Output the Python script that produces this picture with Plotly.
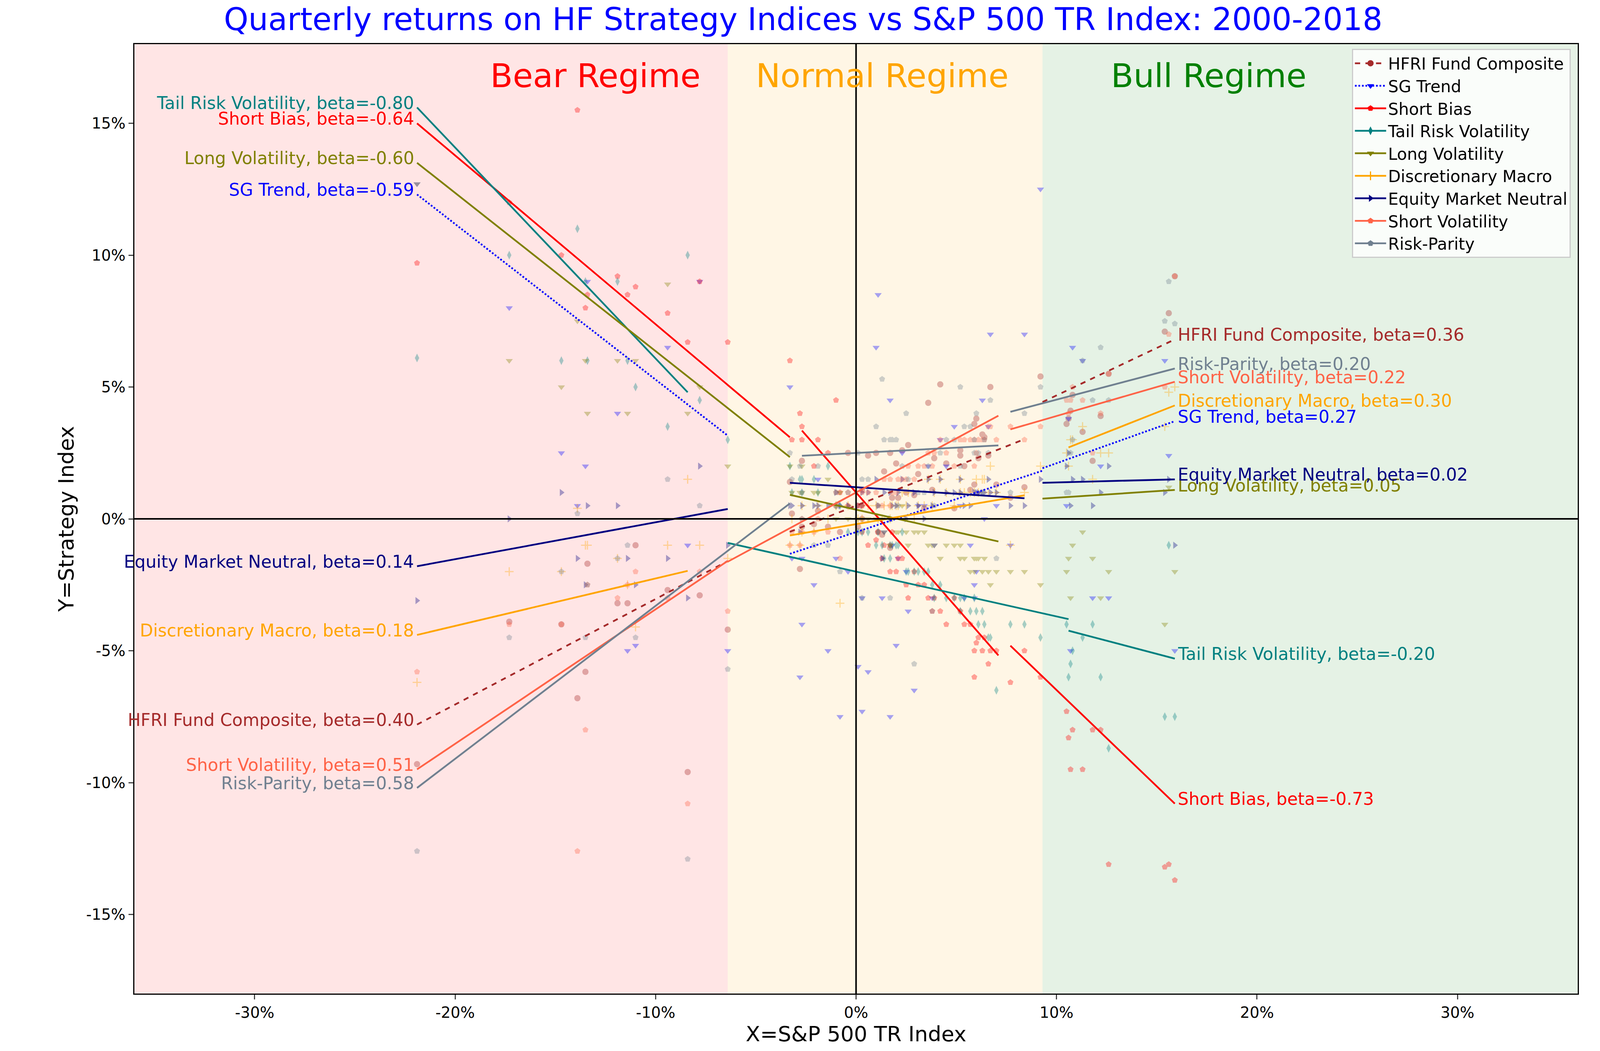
import plotly.graph_objects as go

# S&P 500 total return by quarter, 2000Q1 .. 2018Q4 (%)
spx = [2.3, -2.7, -1.0, -7.8, -11.9, 5.9, -14.7, 10.7, 0.3, -13.4, -17.3, 8.4,
       -3.2, 15.4, 2.6, 12.2, 1.7, 1.7, -1.9, 9.2, -2.1, 1.4, 3.6, 2.1,
       4.2, -1.4, 5.7, 6.7, 0.6, 6.3, 2.0, -3.3, -9.4, -2.7, -8.4, -21.9,
       -11.0, 15.9, 15.6, 6.0, 5.4, -11.4, 11.3, 10.8, 5.9, 0.1, -13.9, 11.8,
       12.6, -2.8, 6.4, -0.4, 10.6, 2.9, 5.2, 10.5, 1.8, 5.2, 1.1, 4.9,
       1.0, 0.3, -6.4, 7.0, 1.3, 2.5, 3.9, 3.8, 6.1, 3.1, 4.5, 6.6,
       -0.8, 3.4, 7.7, -13.5]

hfri = [2.6, -0.3, 0.5, -2.9, -3.2, 3.6, -4.0, 4.1, 1.1, -1.7, -3.9, 1.2,
        0.2, 7.1, 2.8, 3.9, 2.5, -1.1, 0.3, 5.4, -0.2, 1.8, 4.4, 0.8,
        5.1, -0.3, 1.1, 5.0, 2.4, 3.2, 2.1, 1.4, -2.7, 2.2, -9.6, -9.3,
        -1.0, 9.2, 7.8, 3.8, 2.0, -3.2, 3.3, 4.7, 1.3, -0.3, -6.8, 2.2,
        5.5, -1.9, 3.1, 2.5, 3.8, 0.9, 2.4, 3.6, 0.8, 2.6, -0.5, 0.4,
        2.5, 0.0, -4.2, 1.3, -0.6, 1.0, 2.3, 1.1, 2.3, 1.7, 2.1, 2.4,
        -0.5, 0.4, 0.8, -5.8]
sg_trend = [2.5, -4.0, -1.5, 9.0, 4.0, -3.0, 2.5, -5.0, -3.0, 9.0, 8.0, 7.0,
            -1.5, 6.0, -3.5, 2.0, 4.5, -7.5, 1.5, 12.5, -2.5, -0.5, 2.0, -1.5,
            3.0, -5.0, -1.0, 7.0, -5.8, 4.5, -4.8, 5.0, 6.5, -1.5, -1.0, 12.7,
            -4.8, -5.0, 2.4, -2.0, -3.0, -5.0, 6.0, 6.5, -2.5, -5.6, 0.5, -3.0,
            -3.0, -6.0, 0.0, -2.0, 3.8, -6.5, 0.5, 0.5, -1.0, 0.5, 8.5, 3.5,
            6.5, -7.3, -5.0, 0.5, -3.0, -2.0, -1.0, -3.0, 1.0, 0.5, 2.0, 3.5,
            -7.5, 0.5, -1.0, 2.0]
short_bias = [-1.5, 3.5, 4.5, 9.0, 9.2, -6.0, 10.0, -9.5, 0.5, 8.5, 12.0, -5.0,
              3.0, -13.2, -3.0, -8.0, -1.0, -2.0, 3.0, -6.0, 2.0, -1.0, -3.0, -1.5,
              -3.5, 2.5, -4.0, -5.0, -1.0, -5.0, -2.0, 6.0, 7.8, 3.0, 6.7, 9.7,
              8.8, -13.7, -13.1, -4.7, -4.0, 8.5, -9.5, -8.0, -5.0, 0.5, 15.5, -8.0,
              -13.1, 4.0, -4.5, 0.5, -8.3, -2.0, -3.5, -7.3, -0.5, -3.5, -0.5, -3.0,
              -0.8, -0.5, 6.7, -5.0, -1.5, -2.5, -3.0, -3.5, -4.5, -2.5, -4.0, -5.5,
              1.0, -2.5, -6.2, 8.0]
tail_risk = [-0.5, 1.5, 0.5, 4.5, 9.0, -3.0, 6.0, -5.5, -0.5, 6.0, 10.0, -4.0,
             1.0, -7.5, -2.0, -6.0, -1.0, -1.5, 1.0, -4.5, 1.5, -1.5, -2.0, -1.0,
             -2.5, 2.0, -3.5, -4.5, -0.5, -3.5, -1.0, 2.0, 3.5, 1.0, 10.0, 6.1,
             5.0, -7.5, -1.0, -3.5, -3.0, 6.0, -4.5, -5.0, -3.0, -0.5, 11.0, -4.0,
             -8.7, 1.5, -4.0, -0.5, -6.0, -2.0, -3.0, -4.0, -1.0, -3.5, -0.5, -3.0,
             -1.0, -0.5, 3.0, -6.5, -1.0, -2.0, -3.0, -2.5, -4.0, -2.0, -3.0, -4.5,
             0.5, -2.0, -4.0, 9.0]
long_vol = [0.5, 2.0, 0.0, 5.0, 6.0, -2.0, 5.0, -3.0, 0.0, 4.0, 6.0, -2.0,
            1.0, -4.0, -1.0, -3.0, 0.0, -1.0, 1.0, -2.5, 1.0, -0.5, -1.0, -0.5,
            -1.5, 1.5, -2.0, -2.5, 0.0, -2.0, -0.5, 2.0, 8.9, 1.0, 4.0, 12.7,
            6.0, -2.0, 1.2, -1.5, -1.5, 4.0, -0.5, -1.0, -1.5, 0.0, 7.5, -1.5,
            -2.0, 1.0, -1.5, 0.0, -1.5, -0.5, -1.0, -2.0, 0.0, -1.5, 0.0, -1.0,
            0.0, 0.0, 2.0, -2.0, 0.0, -0.5, -1.0, -1.0, -1.5, -0.5, -1.0, -2.0,
            1.0, -0.5, -2.0, 6.0]
disc_macro = [1.0, -0.5, 0.5, -1.0, -1.5, 1.0, -2.0, 3.0, 0.5, -1.0, -2.0, 1.0,
              0.0, 3.5, 1.0, 2.5, 0.5, 0.0, 0.5, 2.0, -0.5, 0.5, 1.5, 0.5,
              1.5, 0.0, 1.0, 2.0, 0.5, 1.5, 0.5, -1.0, -1.0, 0.5, 1.5, -6.2,
              -4.1, 5.0, 4.8, 1.5, 1.0, -2.5, 3.5, 3.0, 1.0, 0.0, 0.4, 1.5,
              2.5, -1.0, 1.5, 0.5, 2.0, 0.0, 1.5, 2.5, 0.5, 1.0, 0.0, 0.5,
              0.5, 0.0, -1.5, 1.0, 0.0, 0.5, 1.0, 0.5, 1.0, 0.5, 1.0, 1.0,
              -3.2, 0.5, -1.0, -1.0]
eq_mkt_neutral = [1.5, 0.5, 1.0, 2.0, 0.5, 1.0, 1.0, 0.5, 1.0, 0.5, 0.0, 0.5,
                  0.5, 1.0, 0.5, 1.0, 1.0, 0.0, 0.5, 1.5, 0.5, 1.0, 1.5, 1.0,
                  1.5, 0.5, 0.5, 1.0, 1.0, 1.0, 0.5, 0.5, -1.5, 0.5, -3.0, -3.1,
                  -2.5, -1.0, 1.5, 1.0, 0.5, -1.5, 1.5, 1.5, 1.0, 0.5, -1.5, 0.5,
                  2.0, -0.5, 1.0, 0.5, 2.5, 1.0, 1.5, 2.0, 0.5, 1.0, 0.5, 1.0,
                  1.5, 0.5, -1.0, 1.0, -1.5, 0.0, 1.0, 0.5, 1.0, 0.5, 1.0, 1.5,
                  0.5, 0.0, 0.5, -2.5]
short_vol = [1.5, 0.0, 1.0, -2.0, -3.0, 3.0, -4.0, 4.5, 1.0, -2.5, -4.0, 3.0,
             -0.5, 5.0, 2.0, 4.0, 1.5, 0.5, 0.0, 3.5, -0.5, 1.5, 2.5, 1.5,
             3.0, -0.5, 3.0, 3.5, 1.0, 3.0, 1.0, -1.0, -3.0, -0.5, -10.8, -5.8,
             -2.0, 9.2, 7.0, 2.5, 3.0, -2.5, 4.5, 5.0, 2.0, 0.5, -12.6, 2.5,
             5.5, -1.0, 3.0, 1.0, 4.0, 1.5, 3.0, 4.5, 1.0, 3.0, 0.5, 2.0,
             1.0, 0.5, -3.5, 3.0, 0.5, 1.5, 2.5, 2.0, 3.0, 2.0, 2.5, 3.5,
             -1.5, 2.0, 3.5, -8.0]
risk_parity = [2.0, 0.0, 1.0, 0.5, -1.5, 2.5, -2.0, 2.5, 1.5, -2.5, -4.5, 4.0,
               1.5, 7.5, 1.5, 6.5, 3.0, -3.0, 2.0, 5.0, -1.0, 3.0, 2.0, 0.5,
               2.5, -1.0, 3.5, 4.5, 1.5, 1.0, 3.0, 2.5, 1.5, 1.0, -12.9, -12.6,
               -4.5, 7.4, 9.0, 4.0, 3.5, -1.0, 6.0, 3.0, 3.0, 2.5, 0.2, 4.5,
               4.5, 2.0, 3.0, 1.0, 1.0, -5.5, 2.0, 1.0, 3.0, 5.0, 0.5, 3.0,
               3.5, -3.0, -5.7, -1.5, 5.3, 4.0, 0.5, -3.5, 2.5, 1.0, 3.0, 2.5,
               -2.0, 1.0, 1.0, -4.5]

names = ["HFRI Fund Composite", "SG Trend", "Short Bias", "Tail Risk Volatility",
         "Long Volatility", "Discretionary Macro", "Equity Market Neutral",
         "Short Volatility", "Risk-Parity"]
series = [hfri, sg_trend, short_bias, tail_risk, long_vol, disc_macro,
          eq_mkt_neutral, short_vol, risk_parity]

# per-regime fits: beta, alpha, x range
bear_beta = [0.40, -0.59, -0.64, -0.80, -0.60, 0.18, 0.14, 0.51, 0.58]
bear_alpha = [0.96, -0.62, 0.98, -1.92, 0.36, -0.46, 1.27, 1.67, 2.50]
bear_xlo = [-21.9] * 9
bear_xhi = [-6.4, -6.4, -3.3, -8.4, -3.3, -8.4, -6.4, -6.4, -3.3]

norm_beta = [0.30, 0.25, -0.87, -0.17, -0.17, 0.13, -0.05, 0.41, 0.04]
norm_alpha = [0.50, -0.50, 1.00, -2.00, 0.35, -0.20, 1.20, 1.00, 2.50]
norm_xlo = [-3.3, -3.3, -2.7, -6.4, -3.3, -3.3, -3.3, -6.4, -2.7]
norm_xhi = [8.4, 9.3, 7.1, 10.6, 7.1, 8.4, 8.4, 7.1, 7.1]

bull_beta = [0.36, 0.27, -0.73, -0.20, 0.05, 0.30, 0.02, 0.22, 0.20]
bull_alpha = [1.08, -0.59, 0.81, -2.12, 0.30, -0.47, 1.18, 1.70, 2.52]
bull_xlo = [9.3, 9.3, 7.7, 10.6, 9.3, 10.6, 9.3, 7.7, 7.7]
bull_xhi = [15.9] * 9

colors = ["brown", "blue", "red", "teal", "olive", "orange", "navy", "tomato", "slategray"]
dashes = ["dash", "dot"] + ["solid"] * 7
symbols = ["circle", "triangle-down", "pentagon", "diamond-tall", "triangle-down",
           "cross-thin", "triangle-right", "pentagon", "pentagon"]

regimes = ["Bear Regime", "Normal Regime", "Bull Regime"]
regime_colors = ["red", "orange", "green"]
regime_label_x = [-13, 1.3, 17.6]
bear_cut, bull_cut = -6.4, 9.3

x_ticks = [-30, -20, -10, 0, 10, 20, 30]
x_ticktext = ["-30%", "-20%", "-10%", "0%", "10%", "20%", "30%"]
y_ticks = [-15, -10, -5, 0, 5, 10, 15]
y_ticktext = ["-15%", "-10%", "-5%", "0%", "5%", "10%", "15%"]

fig = go.Figure()

for i, name in enumerate(names):
    fig.add_trace(go.Scatter(
        x=spx, y=series[i], mode="markers", showlegend=False, opacity=0.35,
        marker=dict(symbol=symbols[i], color=colors[i], size=16,
                    line=dict(width=3 if symbols[i] == "cross-thin" else 0, color=colors[i]))))

for i, name in enumerate(names):
    ln = dict(color=colors[i], width=4.5, dash=dashes[i])
    for b, a, lo, hi in [(bear_beta[i], bear_alpha[i], bear_xlo[i], bear_xhi[i]),
                         (norm_beta[i], norm_alpha[i], norm_xlo[i], norm_xhi[i]),
                         (bull_beta[i], bull_alpha[i], bull_xlo[i], bull_xhi[i])]:
        fig.add_trace(go.Scatter(x=[lo, hi], y=[a + b * lo, a + b * hi], mode="lines",
                                 line=ln, showlegend=False, hoverinfo="skip"))
    # labels at the outer ends
    y0 = bear_alpha[i] + bear_beta[i] * bear_xlo[i]
    fig.add_annotation(x=bear_xlo[i], y=y0, xshift=-6, yshift=12, xanchor="right",
                       text=f"{name}, beta={bear_beta[i]:.2f}", showarrow=False,
                       font=dict(size=44, color=colors[i]))
    y1 = bull_alpha[i] + bull_beta[i] * bull_xhi[i]
    fig.add_annotation(x=bull_xhi[i], y=y1, xshift=6, yshift=12, xanchor="left",
                       text=f"{name}, beta={bull_beta[i]:.2f}", showarrow=False,
                       font=dict(size=44, color=colors[i]))
    fig.add_trace(go.Scatter(
        x=[None], y=[None], mode="lines+markers", name=name,
        line=dict(color=colors[i], width=4.5, dash=dashes[i]),
        marker=dict(symbol=symbols[i], color=colors[i], size=20,
                    line=dict(width=3 if symbols[i] == "cross-thin" else 0, color=colors[i]))))

edges = [-36, bear_cut, bull_cut, 36]
for k in range(3):
    fig.add_vrect(x0=edges[k], x1=edges[k + 1], fillcolor=regime_colors[k],
                  opacity=0.1, line_width=0, layer="below")
    fig.add_annotation(x=regime_label_x[k], y=16.8, text=regimes[k], showarrow=False,
                       font=dict(size=84, color=regime_colors[k]))

fig.add_hline(y=0, line=dict(color="black", width=4))
fig.add_vline(x=0, line=dict(color="black", width=4))

axis = dict(showgrid=False, zeroline=False, showline=True, mirror=True, linecolor="black",
            linewidth=3, ticks="outside", ticklen=12, tickwidth=3,
            tickfont=dict(size=39, color="black"))
fig.update_xaxes(range=[-36, 36], tickvals=x_ticks, ticktext=x_ticktext,
                 title=dict(text="X=S&P 500 TR Index", font=dict(size=54, color="black")), **axis)
fig.update_yaxes(range=[-18, 18], tickvals=y_ticks, ticktext=y_ticktext,
                 title=dict(text="Y=Strategy Index", font=dict(size=54, color="black")), **axis)

fig.update_layout(
    autosize=True, plot_bgcolor="white", paper_bgcolor="white",
    font=dict(family="DejaVu Sans"),
    margin=dict(l=336, r=65, t=105, b=155),
    title=dict(text="Quarterly returns on HF Strategy Indices vs S&P 500 TR Index: 2000-2018",
               x=0.5, xanchor="center", y=0.995, yanchor="top",
               font=dict(size=80, color="blue")),
    legend=dict(x=0.995, y=0.995, xanchor="right", yanchor="top", bgcolor="rgba(255,255,255,0.8)",
                bordercolor="#cccccc", borderwidth=3, font=dict(size=42, color="black"),
                itemwidth=80),
)

fig.write_html("out.html", default_width="100vw", default_height="100vh")
